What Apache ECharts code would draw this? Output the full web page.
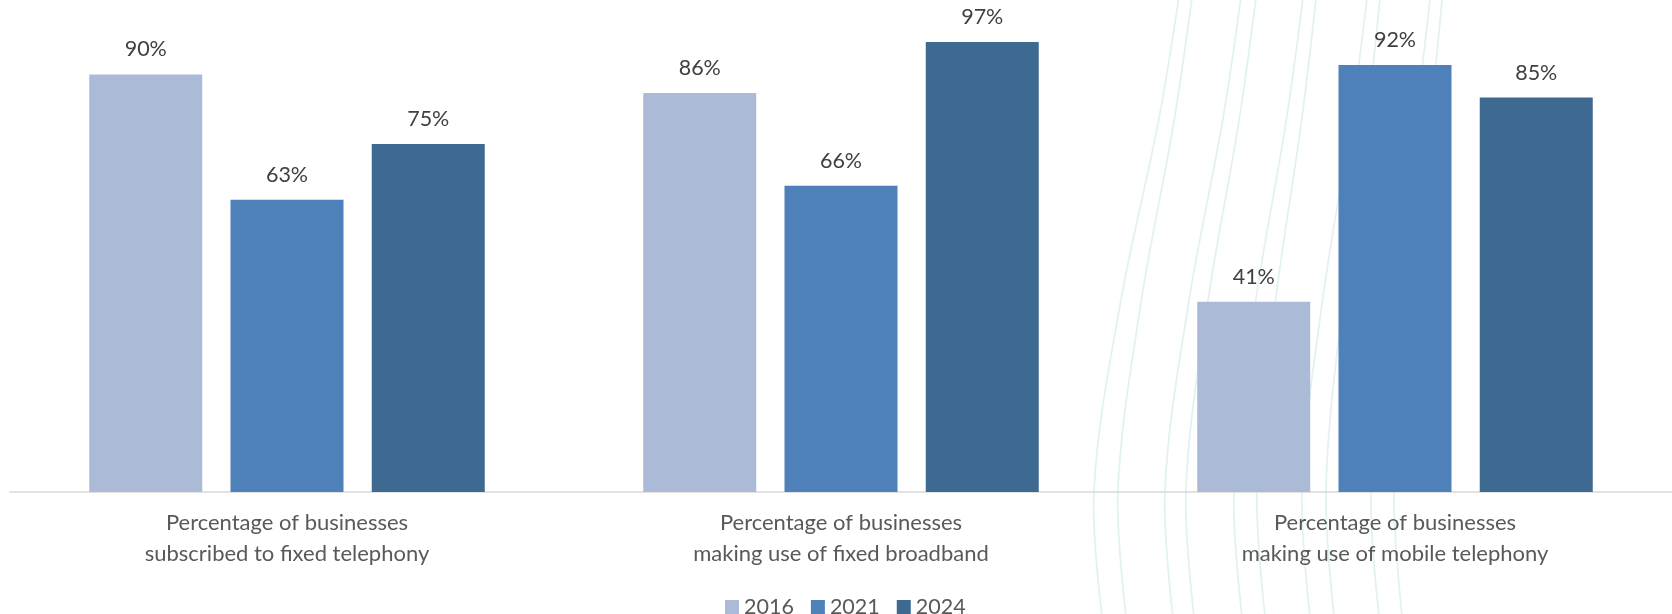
<!DOCTYPE html>
<html>
<head>
<meta charset="utf-8">
<script src="https://cdn.jsdelivr.net/npm/echarts@6/dist/echarts.min.js"></script>
<style>
html,body{margin:0;padding:0;background:#fff;}
#chart{width:1672px;height:614px;}
</style>
</head>
<body>
<div id="chart"></div>
<script>
const categories = [
  'Percentage of businesses\nsubscribed to fixed telephony',
  'Percentage of businesses\nmaking use of fixed broadband',
  'Percentage of businesses\nmaking use of mobile telephony'
];
const seriesNames = ['2016', '2021', '2024'];
const values2016 = [90, 86, 41];
const values2021 = [63, 66, 92];
const values2024 = [75, 97, 85];
const seriesColors = ['#abbad7', '#4e80ba', '#3e6990'];

const FONT = 'Lato, "Open Sans", sans-serif';

// decorative background waves (not data): top x and horizontal drift at the axis line
const waveTops   = [1178, 1191, 1240, 1255, 1302, 1315, 1366, 1379, 1429, 1441];
const waveDrifts = [-84, -73, -75, -69, -68, -58, -64, -53, -58, -47];
const waves = waveTops.map((x0, i) => {
  const d = waveDrifts[i];
  return {
    type: 'polyline',
    z: -10,
    silent: true,
    shape: {
      points: [[x0 + 2, -10], [x0 + 0.23 * d, 120], [x0 + 0.69 * d, 305], [x0 + d, 490], [x0 + d + 9, 625]],
      smooth: 0.35
    },
    style: { stroke: '#e3f2f1', lineWidth: 1.8, fill: null }
  };
});

const chart = echarts.init(document.getElementById('chart'), null, { renderer: 'canvas' });
const dataSets = [values2016, values2021, values2024];
chart.setOption({
  backgroundColor: '#ffffff',
  animation: false,
  graphic: waves,
  grid: { left: 10, right: 0, top: 28, bottom: 122, containLabel: false },
  legend: {
    data: seriesNames,
    top: 591,
    left: 720,
    itemWidth: 14,
    itemHeight: 14,
    itemGap: 17,
    icon: 'rect',
    textStyle: { fontFamily: FONT, fontSize: 21.5, color: '#595959' }
  },
  xAxis: {
    type: 'category',
    data: categories,
    axisLine: { show: true, lineStyle: { color: '#d9d9d9', width: 1.5 } },
    axisTick: { show: false },
    axisLabel: {
      fontFamily: FONT, fontSize: 22, color: '#595959', lineHeight: 31, margin: 15, interval: 0
    }
  },
  yAxis: {
    type: 'value', min: 0, max: 100, show: false,
    splitLine: { show: false }
  },
  series: seriesNames.map((name, i) => ({
    name,
    type: 'bar',
    data: dataSets[i],
    barWidth: 113,
    barGap: '25%',
    itemStyle: { color: seriesColors[i] },
    label: {
      show: true, position: 'top', distance: 14,
      formatter: '{c}%',
      fontFamily: FONT, fontSize: 21.5, color: '#404040'
    }
  }))
});
</script>
</body>
</html>
